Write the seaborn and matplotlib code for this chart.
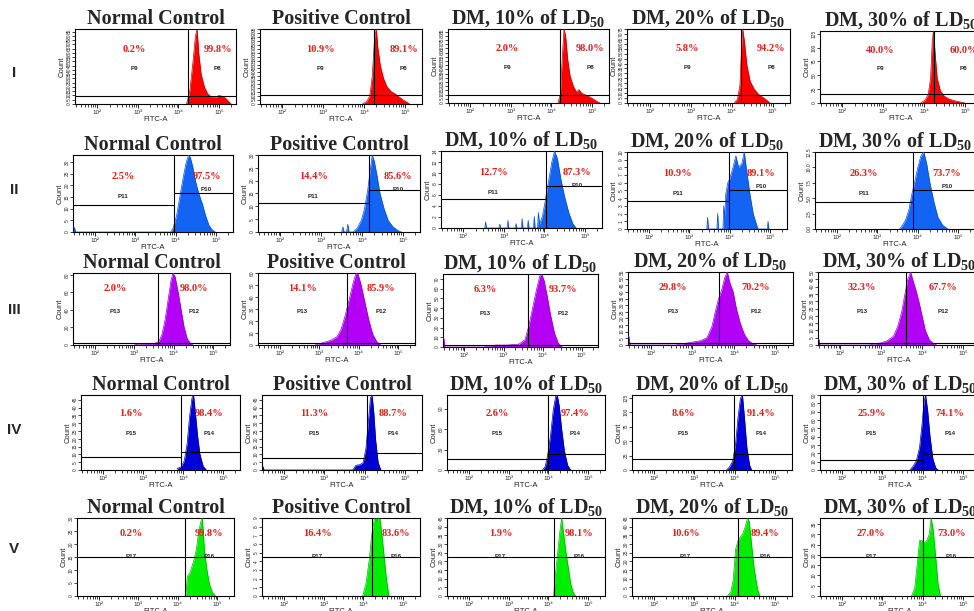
import numpy as np
import matplotlib
matplotlib.use("Agg")
import matplotlib.pyplot as plt
from matplotlib.ticker import FixedLocator, MultipleLocator, LogLocator, NullFormatter, FixedFormatter
import seaborn as sns

sns.set_style("ticks")
plt.rcParams['font.family'] = ['Liberation Sans', 'DejaVu Sans']
plt.rcParams['mathtext.fontset'] = 'custom'
plt.rcParams['mathtext.rm'] = 'Liberation Serif:bold'
plt.rcParams['mathtext.it'] = 'Liberation Serif:bold'
plt.rcParams['mathtext.bf'] = 'Liberation Serif:bold'

# ---------------- data ----------------
titles = ["Normal Control", "Positive Control", r"DM, 10% of $\mathrm{LD}_{50}$",
          r"DM, 20% of $\mathrm{LD}_{50}$", r"DM, 30% of $\mathrm{LD}_{50}$"]
row_labels = ["I", "II", "III", "IV", "V"]
gate_names = [("P9", "P8"), ("P11", "P10"), ("P13", "P12"), ("P15", "P14"), ("P17", "P16")]
x_tick_labels = ["10²", "10³", "10⁴", "10⁵"]

# Row I (red)
I_logx = [
    [4.20, 4.28, 4.36, 4.42, 4.46, 4.50, 4.56, 4.64, 4.72, 4.82, 4.92, 5.00, 5.08, 5.16, 5.24, 5.30],
    [3.96, 4.06, 4.14, 4.20, 4.26, 4.30, 4.34, 4.40, 4.48, 4.56, 4.66, 4.76, 4.86, 4.96, 5.06, 5.12],
    [4.16, 4.22, 4.27, 4.31, 4.35, 4.40, 4.46, 4.54, 4.62, 4.68, 4.74, 4.82, 4.92, 5.02, 5.12, 5.20],
    [4.06, 4.14, 4.20, 4.24, 4.27, 4.31, 4.37, 4.45, 4.55, 4.65, 4.75, 4.85, 4.93],
    [3.92, 4.02, 4.10, 4.16, 4.20, 4.23, 4.27, 4.32, 4.40, 4.50, 4.62, 4.75, 4.88, 5.00],
]
I_count = [
    [0, 15, 50, 80, 88, 60, 35, 20, 12, 8, 8, 10, 9, 7, 3, 0],
    [0, 3, 10, 35, 85, 95, 70, 48, 32, 22, 16, 13, 9, 5, 2, 0],
    [0, 10, 55, 88, 80, 52, 32, 20, 13, 16, 12, 10, 8, 5, 2, 0],
    [0, 4, 18, 55, 75, 62, 38, 22, 14, 9, 6, 3, 0],
    [0, 5, 15, 45, 110, 130, 90, 45, 22, 12, 7, 4, 2, 0],
]
I_gate = [4.24, 4.24, 4.22, 4.22, 4.24]
I_line_left = [9, 11, 9, 8, 16]
I_line_right = [9, 11, 9, 8, 16]
I_ymax = [88, 95, 88, 75, 130]
I_ystep = [5, 5, 5, 5, 25]
I_pct_left = ["0.2%", "10.9%", "2.0%", "5.8%", "40.0%"]
I_pct_right = ["99.8%", "89.1%", "98.0%", "94.2%", "60.0%"]

# Row II (blue)
II_logx = [
    [1.45, 1.48, 1.52, 3.88, 3.94, 4.02, 4.10, 4.18, 4.26, 4.32, 4.36, 4.42, 4.50, 4.58, 4.66, 4.74, 4.82, 4.90, 4.98],
    [3.50, 3.53, 3.56, 3.62, 3.65, 3.68, 3.78, 3.88, 3.98, 4.06, 4.14, 4.20, 4.25, 4.30, 4.36, 4.44, 4.54, 4.64, 4.76, 4.88, 4.96],
    [2.53, 2.55, 2.57, 2.88, 2.90, 2.92, 3.08, 3.10, 3.12, 3.28, 3.30, 3.32, 3.43, 3.45, 3.47, 3.58, 3.60, 3.62,
     3.73, 3.75, 3.77, 3.83, 3.85, 3.88, 3.95, 4.02, 4.10, 4.18, 4.25, 4.32, 4.40, 4.50, 4.60, 4.70, 4.78],
    [3.43, 3.45, 3.47, 3.68, 3.70, 3.72, 3.83, 3.85, 3.87, 3.90, 3.95, 4.00, 4.08, 4.15, 4.22, 4.30, 4.36, 4.42,
     4.50, 4.58, 4.65, 4.70, 4.93, 4.95, 4.97],
    [3.55, 3.62, 3.70, 3.78, 3.85, 3.92, 4.00, 4.08, 4.15, 4.22, 4.30, 4.40, 4.50, 4.62, 4.75],
]
II_count = [
    [2, 2, 0, 0, 2, 7, 15, 23, 30, 33, 32, 28, 21, 16, 12, 7, 3, 1, 0],
    [0, 2, 0, 0, 3, 0, 0, 1.5, 4.5, 9, 16.5, 24, 30, 27.5, 22.5, 15, 9, 4.5, 2, 0.6, 0],
    [0, 1.1, 0, 0, 0.7, 0, 0, 1.4, 0, 0, 0.8, 0, 0, 1.7, 0, 0, 1.4, 0,
     0, 2.1, 0, 0, 2.8, 0.7, 2.1, 4.9, 8.4, 11.9, 14, 12.6, 9.1, 5.6, 2.8, 0.8, 0],
    [0, 1.5, 0, 0, 2, 0, 0, 3, 1.5, 4.5, 6, 6.5, 8, 9.5, 8, 8.5, 10, 7.5,
     4.5, 2, 0.8, 0, 0, 1, 0],
    [0, 0.6, 1.5, 3.1, 5.6, 7.5, 10, 11.9, 12.5, 10.6, 7.5, 4.4, 1.9, 0.6, 0],
]
II_gate = [3.95, 4.17, 4.03, 3.97, 3.87]
II_line_left = [11.5, 11.4, 5.3, 3.6, 4.4]
II_line_right = [16.8, 16.5, 7.7, 5.1, 6.25]
II_ymax = [33, 30, 14, 10, 12.5]
II_ystep = [5, 5, 2, 1, 2.5]
II_pct_left = ["2.5%", "14.4%", "12.7%", "10.9%", "26.3%"]
II_pct_right = ["97.5%", "85.6%", "87.3%", "89.1%", "73.7%"]

# Row III (violet)
III_logx = [
    [3.00, 3.10, 3.30, 3.50, 3.62, 3.70, 3.78, 3.86, 3.93, 3.98, 4.03, 4.10, 4.18, 4.26, 4.34, 4.42, 4.48],
    [2.90, 3.10, 3.30, 3.45, 3.55, 3.65, 3.75, 3.85, 3.92, 3.97, 4.05, 4.15, 4.25, 4.35, 4.45, 4.55],
    [1.45, 1.47, 1.50, 2.50, 2.80, 3.10, 3.40, 3.55, 3.65, 3.75, 3.85, 3.93, 3.98, 4.04, 4.12, 4.20, 4.30, 4.40, 4.50],
    [1.45, 1.47, 1.50, 2.60, 2.90, 3.20, 3.35, 3.47, 3.55, 3.62, 3.70, 3.78, 3.84, 3.90, 3.98, 4.06, 4.15, 4.25, 4.35, 4.45, 4.55],
    [1.45, 1.47, 1.50, 2.70, 3.00, 3.15, 3.30, 3.40, 3.50, 3.58, 3.65, 3.72, 3.78, 3.85, 3.92, 4.00, 4.08, 4.18, 4.28, 4.36],
]
III_count = [
    [0, 1, 1.5, 1.5, 4, 12, 29, 53, 74, 82, 78, 62, 41, 20, 7, 2, 0],
    [0, 2, 4, 7, 13, 24, 37, 51, 59, 60, 51, 36, 21, 9, 3, 0],
    [9, 9, 0, 0, 2, 2, 3, 7.5, 22, 41, 60, 73, 75, 68, 52, 34, 15, 4, 0],
    [6.6, 6.6, 0, 0, 1.6, 3.3, 5.5, 14, 25, 34, 41, 51, 55, 47, 40, 27, 16.5, 8, 3.3, 1, 0],
    [4, 4, 0, 0, 1.5, 3, 6, 12.5, 22.5, 35, 45, 50, 44, 37.5, 30, 20, 10, 3.5, 1, 0],
]
III_gate = [3.59, 3.69, 3.63, 3.63, 3.60]
III_line_left = [2.5, 1.8, 2.2, 1.6, 1.5]
III_line_right = [2.5, 1.8, 2.2, 1.6, 1.5]
III_ymax = [82, 60, 75, 55, 50]
III_ystep = [20, 10, 10, 5, 5]
III_pct_left = ["2.0%", "14.1%", "6.3%", "29.8%", "32.3%"]
III_pct_right = ["98.0%", "85.9%", "93.7%", "70.2%", "67.7%"]

# Row IV (dark blue)
IV_logx = [
    [3.85, 3.95, 4.03, 4.10, 4.16, 4.22, 4.26, 4.30, 4.36, 4.42, 4.50, 4.58],
    [1.45, 1.47, 1.50, 3.70, 3.78, 3.88, 3.96, 4.03, 4.09, 4.14, 4.18, 4.22, 4.27, 4.33, 4.40],
    [3.85, 3.92, 3.98, 4.05, 4.12, 4.18, 4.22, 4.27, 4.33, 4.40, 4.48, 4.56],
    [3.80, 3.88, 3.95, 4.02, 4.08, 4.14, 4.19, 4.24, 4.30, 4.37, 4.42],
    [3.68, 3.76, 3.84, 3.92, 3.98, 4.03, 4.07, 4.12, 4.18, 4.25, 4.32, 4.38],
]
IV_count = [
    [1, 2, 6, 17, 34, 46, 48, 38, 22, 10, 2.4, 0],
    [2.4, 2.4, 0, 0, 3, 3.4, 4.8, 14, 31, 46, 48, 38, 19, 5, 0],
    [0, 5.5, 22, 50, 88, 108, 110, 94, 60, 28, 7, 0],
    [0, 6.5, 16, 45, 91, 124, 130, 91, 39, 8, 0],
    [0, 4.5, 11, 27, 54, 81, 90, 72, 40, 13.5, 2.7, 0],
]
IV_gate = [3.94, 4.05, 3.98, 3.98, 4.00]
IV_line_left = [8.2, 7.7, 16.5, 19.5, 12.6]
IV_line_right = [11.5, 11.0, 24, 28.6, 19]
IV_ymax = [48, 48, 110, 130, 90]
IV_ystep = [5, 5, 30, 25, 10]
IV_pct_left = ["1.6%", "11.3%", "2.6%", "8.6%", "25.9%"]
IV_pct_right = ["98.4%", "88.7%", "97.4%", "91.4%", "74.1%"]

# Row V (green)
V_logx = [
    [4.20, 4.24, 4.31, 4.40, 4.47, 4.52, 4.58, 4.62, 4.67, 4.73, 4.80, 4.87, 4.95],
    [3.98, 4.06, 4.14, 4.20, 4.25, 4.30, 4.35, 4.40, 4.46, 4.52, 4.58, 4.64],
    [4.13, 4.16, 4.22, 4.28, 4.33, 4.38, 4.44, 4.50, 4.56, 4.62, 4.68],
    [3.82, 3.90, 3.96, 4.02, 4.08, 4.14, 4.20, 4.26, 4.32, 4.36, 4.42, 4.48, 4.56, 4.62],
    [3.72, 3.80, 3.86, 3.92, 3.98, 4.04, 4.10, 4.16, 4.21, 4.26, 4.32, 4.38, 4.44],
]
V_count = [
    [0, 7.5, 9, 13.5, 18, 24, 28.5, 30, 18, 10.5, 4.5, 1.5, 0],
    [0, 1.4, 4, 6.8, 8.3, 9.5, 8.6, 9.5, 7.2, 4.5, 1.8, 0],
    [0, 9, 22.5, 36, 45, 36, 25, 16, 7, 2, 0],
    [0, 2.2, 9, 27, 32, 34, 36, 40, 45, 43, 29, 16, 4.5, 0],
    [0, 3.8, 15, 27, 27, 26, 27, 30, 38, 32, 19, 5.7, 0],
]
V_gate = [4.18, 4.22, 4.14, 4.09, 4.00]
V_line_left = [15, 4.5, 22.5, 22.5, 19]
V_line_right = [15, 4.5, 22.5, 22.5, 19]
V_ymax = [30, 9, 45, 45, 38]
V_ystep = [5, 1, 5, 5, 5]
V_pct_left = ["0.2%", "16.4%", "1.9%", "10.6%", "27.0%"]
V_pct_right = ["99.8%", "83.6%", "98.1%", "89.4%", "73.0%"]

# ---------------- layout / style ----------------
W, H = 974, 611
rows = [
    dict(logx=I_logx, count=I_count, gate=I_gate, hl=I_line_left, hr=I_line_right, ymax=I_ymax,
         ystep=I_ystep, pl=I_pct_left, pr=I_pct_right, color="#FF0000", edge="#C00000",
         pct_y=0.73, p_y=(0.48, 0.48), rshift=0.035, lshift=0.02),
    dict(logx=II_logx, count=II_count, gate=II_gate, hl=II_line_left, hr=II_line_right, ymax=II_ymax,
         ystep=II_ystep, pl=II_pct_left, pr=II_pct_right, color="#1464F4", edge="#0A4FD0",
         pct_y=0.72, p_y=(0.46, 0.55), rshift=0.02, lshift=0.0),
    dict(logx=III_logx, count=III_count, gate=III_gate, hl=III_line_left, hr=III_line_right, ymax=III_ymax,
         ystep=III_ystep, pl=III_pct_left, pr=III_pct_right, color="#B400F5", edge="#9000D0",
         pct_y=0.79, p_y=(0.46, 0.46), rshift=0.0, lshift=0.0),
    dict(logx=IV_logx, count=IV_count, gate=IV_gate, hl=IV_line_left, hr=IV_line_right, ymax=IV_ymax,
         ystep=IV_ystep, pl=IV_pct_left, pr=IV_pct_right, color="#0000D8", edge="#0000A0",
         pct_y=0.76, p_y=(0.49, 0.49), rshift=-0.01, lshift=0.0),
    dict(logx=V_logx, count=V_count, gate=V_gate, hl=V_line_left, hr=V_line_right, ymax=V_ymax,
         ystep=V_ystep, pl=V_pct_left, pr=V_pct_right, color="#00EE00", edge="#00B000",
         pct_y=0.80, p_y=(0.5, 0.5), rshift=0.0, lshift=0.0),
]

# pixel boxes (x0, x1, ytop, ybottom)
boxes = [
    [(75, 236, 29, 104), (260, 422, 29, 104), (448, 609, 29, 103), (627, 790, 29, 103), (820, 982, 31, 103)],
    [(73, 233, 155, 232), (258, 420, 155, 232), (441, 602, 151, 228), (627, 787, 152, 229), (815, 975, 152, 229)],
    [(73, 230, 273, 345), (258, 415, 273, 345), (443, 598, 274, 347), (628, 793, 272, 345), (818, 980, 272, 345)],
    [(81, 240, 395, 470), (262, 422, 395, 470), (447, 605, 395, 470), (632, 792, 395, 470), (820, 980, 395, 470)],
    [(77, 234, 518, 596), (262, 420, 518, 596), (447, 605, 518, 596), (632, 792, 518, 596), (820, 980, 518, 596)],
]
row_label_y = [73, 190, 310, 430, 549]

XLO, XHI = 10 ** 1.45, 10 ** 5.42

fig = plt.figure(figsize=(W / 100, H / 100), dpi=100)
fig.patch.set_facecolor("white")

for r, row in enumerate(rows):
    fig.text(14 / W, 1 - row_label_y[r] / H, row_labels[r], fontsize=11, fontweight="bold",
             ha="center", va="center", family="Liberation Sans")
    for c in range(5):
        x0, x1, yt, yb = boxes[r][c]
        ax = fig.add_axes([x0 / W, 1 - yb / H, (x1 - x0) / W, (yb - yt) / H])
        ax.set_xscale("log")
        xs = 10 ** np.asarray(row["logx"][c])
        ys = np.asarray(row["count"][c], dtype=float)
        ax.fill_between(xs, ys, 0, color=row["color"], lw=0, zorder=2)
        sns.lineplot(x=xs, y=ys, ax=ax, color=row["edge"], lw=0.5, zorder=3, sort=False)
        ax.set_xlim(XLO, XHI)
        ymax = row["ymax"][c]
        ax.set_ylim(0, ymax)

        g = 10 ** row["gate"][c]
        ax.axvline(g, color="black", lw=0.8, zorder=4)
        ax.plot([XLO, g], [row["hl"][c]] * 2, color="black", lw=0.8, zorder=4)
        ax.plot([g, XHI], [row["hr"][c]] * 2, color="black", lw=0.8, zorder=4)

        # ticks
        ax.xaxis.set_major_locator(FixedLocator([1e2, 1e3, 1e4, 1e5]))
        ax.xaxis.set_major_formatter(FixedFormatter(x_tick_labels))
        ax.xaxis.set_minor_locator(LogLocator(base=10, subs=np.arange(2, 10)))
        ax.xaxis.set_minor_formatter(NullFormatter())
        ax.yaxis.set_major_locator(MultipleLocator(row["ystep"][c]))
        ax.tick_params(axis="x", which="major", direction="out", length=3, width=0.7,
                       labelsize=4.5, pad=1)
        ax.tick_params(axis="x", which="minor", direction="out", length=2, width=0.6)
        ax.tick_params(axis="y", which="major", direction="out", length=2, width=0.6,
                       labelsize=3.5, pad=0.5, labelrotation=90)
        for lab in ax.get_yticklabels():
            lab.set_va("center")
        for s in ax.spines.values():
            s.set_linewidth(0.8)
            s.set_color("black")
        ax.set_ylabel("Count", fontsize=5.5, labelpad=1)
        ax.set_xlabel("FITC-A", fontsize=5.5, labelpad=1)

        ax.set_title(titles[c], fontsize=14.5, fontweight="bold", family="Liberation Serif", pad=0.8)

        # region labels
        lx = 10 ** ((np.log10(XLO) + row["gate"][c]) / 2 + row["lshift"] * 3.97)
        rx = 10 ** ((row["gate"][c] + np.log10(XHI)) / 2 + row["rshift"] * 3.97)
        tr = ax.get_xaxis_transform()
        ax.text(lx, row["pct_y"], row["pl"][c], transform=tr, color="#E0201B", fontsize=7.5,
                fontweight="bold", family="Liberation Serif", ha="center", va="center", zorder=5)
        ax.text(rx, row["pct_y"], row["pr"][c], transform=tr, color="#E0201B", fontsize=7.5,
                fontweight="bold", family="Liberation Serif", ha="center", va="center", zorder=5)
        ax.text(lx, row["p_y"][0], gate_names[r][0], transform=tr, fontsize=4.5, fontweight="bold",
                ha="center", va="center", zorder=5)
        ax.text(rx, row["p_y"][1], gate_names[r][1], transform=tr, fontsize=4.5, fontweight="bold",
                ha="center", va="center", zorder=5)

fig.savefig("out.png", dpi=100, facecolor="white")
